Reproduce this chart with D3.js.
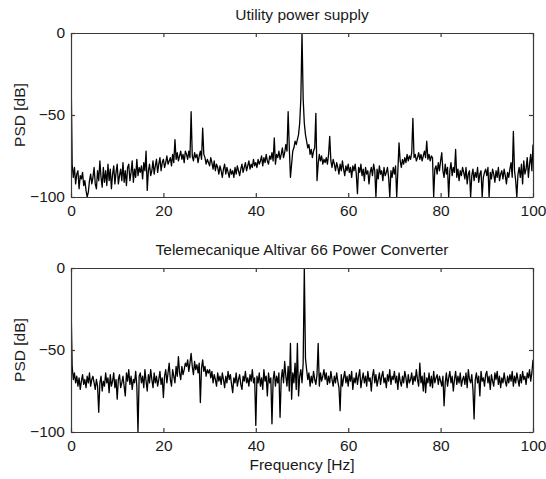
<!DOCTYPE html>
<html><head><meta charset="utf-8">
<script src="https://cdn.jsdelivr.net/npm/d3@7"></script>
<style>body{margin:0;background:#fff;} text{font-family:"Liberation Sans",Arial,sans-serif;}</style>
</head><body><svg id="c" width="546" height="479"></svg>
<script>
const titles = ["Utility power supply", "Telemecanique Altivar 66 Power Converter"];
const yLabel = "PSD [dB]";
const xLabel = "Frequency [Hz]";
const xTicks = [0, 20, 40, 60, 80, 100];
const yTicks = [-100, -50, 0];
const freqStep = 0.25; // Hz between samples, 0..100
const utilityPSD = [
-21,-80,-88,-82,-92,-86,-84,-95,-87,-89,-85,-93,-90,-96,-100,-97,-90,-86,-92,-88,
-82,-92,-95,-84,-90,-78,-88,-94,-82,-91,-84,-93,-80,-90,-83,-95,-86,-81,-92,-85,
-80,-92,-87,-83,-90,-79,-91,-84,-93,-82,-80,-90,-85,-78,-91,-83,-88,-77,-87,-82,
-85,-81,-89,-79,-84,-72,-96,-84,-80,-87,-84,-78,-86,-81,-77,-85,-80,-76,-84,-79,
-77,-82,-79,-75,-80,-78,-76,-81,-74,-79,-65,-77,-73,-78,-75,-72,-77,-74,-79,-72,
-74,-77,-72,-76,-48,-75,-78,-73,-76,-74,-79,-75,-72,-77,-58,-74,-76,-80,-77,-79,
-81,-76,-79,-83,-78,-84,-80,-82,-86,-81,-84,-88,-83,-80,-86,-82,-85,-88,-83,-86,
-84,-88,-82,-86,-81,-84,-87,-83,-80,-85,-82,-79,-84,-81,-78,-83,-80,-82,-77,-81,
-79,-82,-77,-80,-78,-75,-81,-76,-79,-74,-78,-80,-75,-77,-73,-78,-64,-80,-74,-76,
-72,-77,-74,-70,-76,-73,-68,-72,-48,-70,-88,-80,-72,-70,-66,-68,-65,-62,-55,-40,
0,-40,-55,-62,-66,-70,-68,-74,-71,-76,-72,-70,-49,-90,-80,-74,-78,-75,-80,-77,
-79,-76,-80,-74,-63,-78,-82,-77,-80,-84,-79,-82,-86,-80,-84,-78,-83,-87,-81,-84,
-80,-85,-82,-88,-81,-84,-80,-86,-98,-82,-85,-80,-87,-83,-90,-82,-86,-84,-92,-85,
-82,-87,-80,-84,-100,-83,-89,-81,-86,-84,-90,-82,-87,-85,-82,-88,-100,-84,-88,-82,
-86,-81,-100,-84,-67,-78,-82,-77,-80,-76,-79,-74,-78,-75,-77,-73,-52,-76,-74,-78,
-76,-73,-77,-74,-78,-75,-72,-76,-66,-77,-74,-78,-75,-76,-100,-83,-81,-86,-79,-84,
-78,-73,-84,-88,-80,-86,-82,-100,-84,-79,-87,-82,-85,-71,-88,-83,-90,-84,-87,-82,
-85,-89,-82,-92,-86,-84,-100,-87,-83,-90,-85,-88,-82,-91,-86,-84,-100,-88,-85,-83,
-87,-82,-100,-85,-89,-83,-86,-91,-84,-88,-82,-90,-86,-84,-89,-83,-87,-92,-85,-88,
-83,-79,-88,-60,-84,-90,-100,-86,-82,-88,-80,-92,-78,-86,-83,-76,-88,-80,-74,-84,
-68];
const converterPSD = [
-21,-60,-68,-64,-70,-66,-72,-67,-74,-69,-65,-71,-68,-73,-66,-70,-64,-72,-68,-66,
-70,-74,-68,-72,-88,-70,-66,-75,-69,-72,-64,-70,-67,-76,-65,-72,-69,-64,-73,-68,
-80,-68,-65,-73,-70,-66,-72,-78,-64,-69,-62,-71,-66,-74,-68,-70,-63,-72,-100,-66,
-64,-70,-66,-73,-62,-69,-75,-65,-70,-62,-68,-73,-64,-70,-66,-72,-68,-63,-71,-67,
-79,-66,-62,-70,-64,-58,-68,-72,-62,-66,-70,-60,-66,-54,-64,-68,-60,-65,-62,-58,
-60,-56,-63,-58,-52,-60,-65,-57,-62,-59,-64,-58,-82,-61,-56,-63,-60,-66,-62,-64,
-62,-67,-63,-70,-65,-68,-72,-64,-69,-66,-71,-64,-68,-73,-66,-70,-63,-68,-65,-71,
-76,-67,-70,-64,-72,-68,-65,-71,-74,-66,-69,-63,-70,-67,-72,-65,-69,-62,-70,-67,
-96,-66,-70,-64,-72,-67,-74,-62,-69,-66,-78,-64,-70,-67,-95,-68,-63,-72,-66,-70,
-64,-91,-68,-62,-70,-57,-66,-72,-60,-75,-46,-80,-64,-70,-58,-74,-46,-78,-66,-62,
-70,-58,0,-55,-62,-68,-64,-72,-66,-70,-63,-68,-71,-65,-46,-72,-64,-69,-66,-62,
-68,-64,-71,-66,-70,-63,-68,-72,-66,-70,-64,-69,-73,-87,-65,-72,-67,-63,-70,-66,
-72,-65,-69,-63,-74,-67,-70,-64,-71,-66,-62,-73,-68,-64,-70,-66,-72,-63,-69,-67,
-75,-66,-62,-70,-65,-72,-68,-64,-71,-66,-63,-70,-67,-73,-65,-69,-62,-71,-66,-68,
-63,-70,-66,-74,-64,-69,-72,-66,-70,-63,-67,-73,-65,-70,-68,-64,-71,-66,-69,-62,
-68,-72,-58,-70,-66,-75,-64,-76,-67,-70,-64,-72,-66,-73,-63,-70,-67,-65,-71,-66,
-69,-72,-66,-84,-70,-64,-72,-67,-63,-70,-66,-75,-68,-63,-71,-66,-70,-64,-72,-68,
-66,-71,-64,-73,-62,-68,-70,-65,-74,-92,-68,-64,-70,-66,-78,-63,-69,-67,-72,-65,
-63,-70,-66,-74,-65,-69,-72,-64,-68,-63,-71,-66,-73,-67,-70,-64,-69,-72,-66,-70,
-65,-69,-63,-72,-66,-70,-64,-68,-72,-65,-70,-63,-68,-66,-71,-64,-67,-62,-69,-64,
-56];
const series = [utilityPSD, converterPSD];

const svg = d3.select("#c");
const L = 71, R = 533;
const panels = [{top: 33, bottom: 197}, {top: 268, bottom: 432}];
const x = d3.scaleLinear().domain([0, 100]).range([L, R]);
const axisColor = "#3a3a3a";
const fs = "15.5px";

panels.forEach((p, i) => {
  const y = d3.scaleLinear().domain([-100, 0]).range([p.bottom, p.top]);
  const g = svg.append("g");
  const data = series[i].map((v, k) => [k * freqStep, v]);
  const clipId = "clip" + i;
  svg.append("clipPath").attr("id", clipId).append("rect")
    .attr("x", L).attr("y", p.top).attr("width", R - L).attr("height", p.bottom - p.top);
  g.append("path").datum(data)
    .attr("clip-path", `url(#${clipId})`)
    .attr("fill", "none").attr("stroke", "#000").attr("stroke-width", 1.3)
    .attr("stroke-linejoin", "round")
    .attr("d", d3.line().x(d => x(d[0])).y(d => y(d[1])));
  const ax = (gen, tr) => {
    const a = g.append("g").attr("transform", tr).call(gen);
    a.select(".domain").attr("stroke", axisColor).attr("stroke-width", 1.2);
    a.selectAll(".tick line").attr("stroke", axisColor).attr("stroke-width", 1.2);
    a.selectAll("text").attr("fill", "#1a1a1a").style("font-size", fs);
    return a;
  };
  ax(d3.axisBottom(x).tickValues(xTicks).tickSizeInner(-4).tickSizeOuter(0).tickPadding(8), `translate(0,${p.bottom})`);
  ax(d3.axisTop(x).tickValues(xTicks).tickSizeInner(-4).tickSizeOuter(0).tickFormat(""), `translate(0,${p.top})`);
  ax(d3.axisLeft(y).tickValues(yTicks).tickSizeInner(-4).tickSizeOuter(0).tickPadding(6), `translate(${L},0)`);
  ax(d3.axisRight(y).tickValues(yTicks).tickSizeInner(-4).tickSizeOuter(0).tickFormat(""), `translate(${R},0)`);
  g.append("text").attr("x", (L + R) / 2).attr("y", p.top - 13)
    .attr("text-anchor", "middle").style("font-size", fs).attr("fill", "#1a1a1a").text(titles[i]);
  g.append("text").attr("transform", `translate(25,${(p.top + p.bottom) / 2}) rotate(-90)`)
    .attr("text-anchor", "middle").style("font-size", fs).attr("fill", "#1a1a1a").text(yLabel);
});
svg.append("text").attr("x", (L + R) / 2).attr("y", 470)
  .attr("text-anchor", "middle").style("font-size", fs).attr("fill", "#1a1a1a").text(xLabel);
</script></body></html>
